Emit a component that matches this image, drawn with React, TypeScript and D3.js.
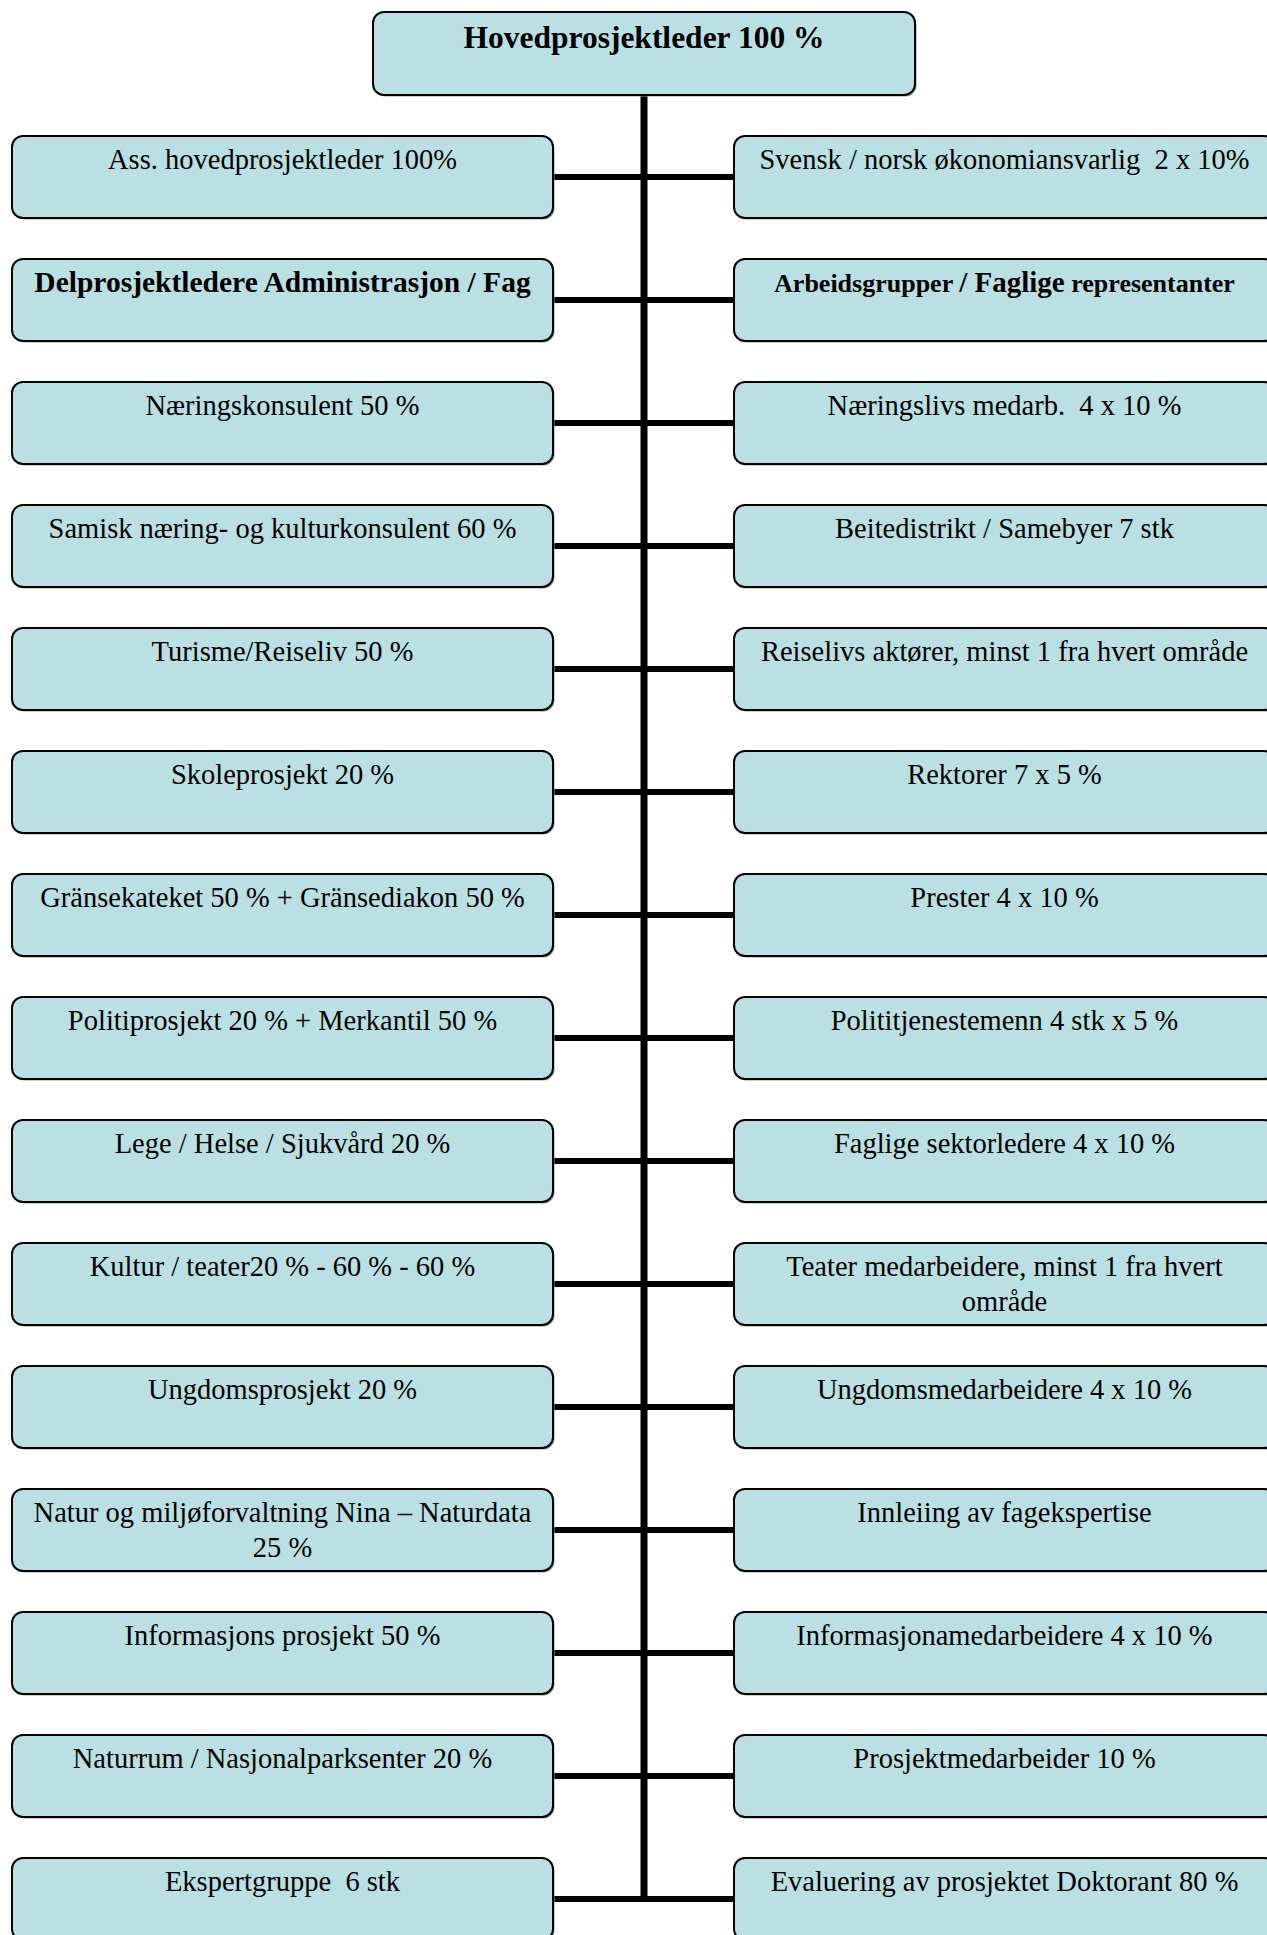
import * as d3 from "d3";

type Seg = { t: string; s?: number };

const topLabel = "Hovedprosjektleder 100 %";

const leftLabels: string[][] = [
  ["Ass. hovedprosjektleder 100%"],
  ["Delprosjektledere Administrasjon / Fag"],
  ["Næringskonsulent 50 %"],
  ["Samisk næring- og kulturkonsulent 60 %"],
  ["Turisme/Reiseliv 50 %"],
  ["Skoleprosjekt 20 %"],
  ["Gränsekateket 50 % + Gränsediakon 50 %"],
  ["Politiprosjekt 20 % + Merkantil 50 %"],
  ["Lege / Helse / Sjukvård 20 %"],
  ["Kultur / teater20 % - 60 % - 60 %"],
  ["Ungdomsprosjekt 20 %"],
  ["Natur og miljøforvaltning Nina – Naturdata", "25 %"],
  ["Informasjons prosjekt 50 %"],
  ["Naturrum / Nasjonalparksenter 20 %"],
  ["Ekspertgruppe  6 stk"],
];

const rightLabels: string[][] = [
  ["Svensk / norsk økonomiansvarlig  2 x 10%"],
  ["Arbeidsgrupper / Faglige representanter"],
  ["Næringslivs medarb.  4 x 10 %"],
  ["Beitedistrikt / Samebyer 7 stk"],
  ["Reiselivs aktører, minst 1 fra hvert område"],
  ["Rektorer 7 x 5 %"],
  ["Prester 4 x 10 %"],
  ["Polititjenestemenn 4 stk x 5 %"],
  ["Faglige sektorledere 4 x 10 %"],
  ["Teater medarbeidere, minst 1 fra hvert", "område"],
  ["Ungdomsmedarbeidere 4 x 10 %"],
  ["Innleiing av fagekspertise"],
  ["Informasjonamedarbeidere 4 x 10 %"],
  ["Prosjektmedarbeider 10 %"],
  ["Evaluering av prosjektet Doktorant 80 %"],
];

// header rows drawn in bold
const boldRows = [1];

// mixed size heading on the right side
const rightHeading: Seg[] = [
  { t: "Arbeidsgrupper ", s: 26 },
  { t: "/ Faglige", s: 29 },
  { t: " representanter", s: 26 },
];

const W = 1267;
const H = 1935;
const FILL = "#bbe0e3";
const FONT = '"Liberation Serif", Tinos, "Times New Roman", Times, "DejaVu Serif", serif';

export default function App() {
  const rows = d3.range(leftLabels.length);
  const y = d3.scaleLinear().domain([0, rows.length - 1]).range([136, 1858]);
  const x = d3.scaleOrdinal<string, number>().domain(["left", "right"]).range([12, 734]);
  const boxW = 541;
  const boxH = 82;
  const spineX = 644;
  const topBox = { x: 373, y: 12, w: 542, h: 83 };
  const lastMid = y(rows.length - 1) + boxH / 2;

  const box = (bx: number, by: number, bw: number, bh: number, key: string) => (
    <g key={key}>
      <rect x={bx + 1.5} y={by + 1.5} width={bw} height={bh} rx={11} fill="#9a9a9a" />
      <rect x={bx} y={by} width={bw} height={bh} rx={11} fill={FILL} stroke="#000" strokeWidth={2} />
    </g>
  );

  const label = (lines: string[], cx: number, by: number, bold: boolean, key: string) => (
    <text key={key} x={cx} y={by + 33} textAnchor="middle" style={{ fontFamily: FONT }} fontSize={bold ? 29.5 : 28.5}
      fontWeight={bold ? "bold" : "normal"} fill="#000">
      {lines.map((l, i) => (
        <tspan key={i} x={cx} dy={i === 0 ? 0 : 34.5} style={{ whiteSpace: "pre" }}>{l}</tspan>
      ))}
    </text>
  );

  return (
    <svg width={W} height={H} style={{ position: "absolute", left: 0, top: 0, background: "#fff" }}>
      {/* connectors */}
      <line x1={spineX} x2={spineX} y1={topBox.y + topBox.h} y2={lastMid + 3} stroke="#000" strokeWidth={7} />
      {rows.map((i) => (
        <line key={"c" + i} x1={x("left") + boxW} x2={x("right")} y1={y(i) + boxH / 2} y2={y(i) + boxH / 2}
          stroke="#000" strokeWidth={6} />
      ))}

      {box(topBox.x, topBox.y, topBox.w, topBox.h, "top")}
      <text x={topBox.x + topBox.w / 2} y={topBox.y + 36} textAnchor="middle" style={{ fontFamily: FONT }}
        fontSize={31.5} fontWeight="bold">{topLabel}</text>

      {rows.map((i) => box(x("left"), y(i), boxW, boxH, "l" + i))}
      {rows.map((i) => box(x("right"), y(i), boxW, boxH, "r" + i))}

      {rows.map((i) => label(leftLabels[i], x("left") + boxW / 2, y(i), boldRows.includes(i), "lt" + i))}
      {rows.map((i) =>
        boldRows.includes(i) ? (
          <text key={"rt" + i} x={x("right") + boxW / 2} y={y(i) + 33} textAnchor="middle" style={{ fontFamily: FONT }}
            fontWeight="bold">
            {rightHeading.map((s, k) => (
              <tspan key={k} fontSize={s.s} style={{ whiteSpace: "pre" }}>{s.t}</tspan>
            ))}
          </text>
        ) : (
          label(rightLabels[i], x("right") + boxW / 2, y(i), false, "rt" + i)
        )
      )}
    </svg>
  );
}
